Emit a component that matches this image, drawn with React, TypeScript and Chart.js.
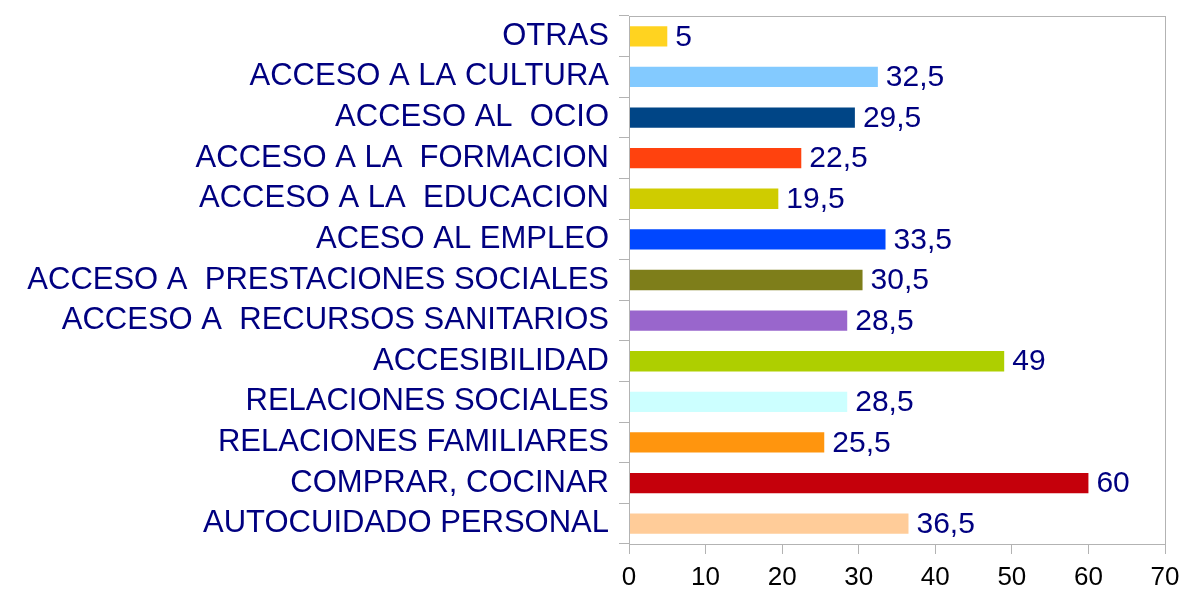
import React, { useEffect, useRef } from "react";
import { Chart, registerables } from "chart.js";

Chart.register(...registerables);

const categories = [
  "OTRAS",
  "ACCESO A LA CULTURA",
  "ACCESO AL  OCIO",
  "ACCESO A LA  FORMACION",
  "ACCESO A LA  EDUCACION",
  "ACESO AL EMPLEO",
  "ACCESO A  PRESTACIONES SOCIALES",
  "ACCESO A  RECURSOS SANITARIOS",
  "ACCESIBILIDAD",
  "RELACIONES SOCIALES",
  "RELACIONES FAMILIARES",
  "COMPRAR, COCINAR",
  "AUTOCUIDADO PERSONAL",
];

const values = [5, 32.5, 29.5, 22.5, 19.5, 33.5, 30.5, 28.5, 49, 28.5, 25.5, 60, 36.5];

const barColors = [
  "#ffd320",
  "#83caff",
  "#004586",
  "#ff420e",
  "#cfcc00",
  "#0047ff",
  "#7e7e1a",
  "#9966cc",
  "#aecf00",
  "#ccffff",
  "#ff950e",
  "#c5000b",
  "#ffcc99",
];

const xTicks = [0, 10, 20, 30, 40, 50, 60, 70];

const FONT = "'Liberation Sans', Arial, sans-serif";
const NAVY = "#000080";
const BORDER = "#b3b3b3";

const valueLabels = {
  id: "valueLabels",
  afterDatasetsDraw(chart: any) {
    const ctx = chart.ctx;
    const meta = chart.getDatasetMeta(0);
    ctx.save();
    ctx.font = `30px ${FONT}`;
    ctx.fillStyle = NAVY;
    ctx.textAlign = "left";
    ctx.textBaseline = "middle";
    meta.data.forEach((bar: any, i: number) => {
      const txt = String(values[i]).replace(".", ",");
      ctx.fillText(txt, bar.x + 8, bar.y + 1);
    });
    ctx.restore();
  },
};

const plotBorder = {
  id: "plotBorder",
  afterDraw(chart: any) {
    const { ctx, chartArea } = chart;
    ctx.save();
    ctx.strokeStyle = BORDER;
    ctx.lineWidth = 1;
    ctx.strokeRect(
      Math.round(chartArea.left) + 0.5,
      Math.round(chartArea.top) + 0.5,
      Math.round(chartArea.right - chartArea.left),
      Math.round(chartArea.bottom - chartArea.top)
    );
    ctx.restore();
  },
};

export default function App() {
  const ref = useRef<HTMLCanvasElement>(null);

  useEffect(() => {
    if (!ref.current) return;
    const chart = new Chart(ref.current, {
      type: "bar",
      data: {
        labels: categories,
        datasets: [
          {
            data: values,
            backgroundColor: barColors,
            borderWidth: 0,
            barPercentage: 0.5,
            categoryPercentage: 1,
          },
        ],
      },
      options: {
        indexAxis: "y",
        animation: false,
        responsive: false,
        maintainAspectRatio: false,
        layout: { padding: { top: 16, right: 17, left: 0, bottom: 0 } },
        plugins: {
          legend: { display: false },
          tooltip: { enabled: false },
          title: { display: false },
        },
        scales: {
          x: {
            type: "linear",
            min: 0,
            max: 70,
            afterBuildTicks(scale: any) {
              scale.ticks = xTicks.map((v) => ({ value: v }));
            },
            afterFit(scale: any) {
              scale.height = 47;
              scale.paddingLeft = 0;
              scale.paddingRight = 0;
            },
            grid: {
              drawOnChartArea: false,
              drawTicks: true,
              tickLength: 10,
              color: BORDER,
            },
            border: { display: true, color: BORDER },
            ticks: {
              color: "#000000",
              font: { family: FONT, size: 26 },
              padding: 8,
              maxRotation: 0,
            },
          },
          y: {
            type: "category",
            afterFit(scale: any) {
              scale.width = 629;
              scale.paddingTop = 0;
              scale.paddingBottom = 0;
            },
            grid: {
              offset: true,
              drawOnChartArea: false,
              drawTicks: true,
              tickLength: 10,
              color: BORDER,
            },
            border: { display: true, color: BORDER },
            ticks: {
              color: NAVY,
              font: { family: FONT, size: 31 },
              padding: 10,
              autoSkip: false,
            },
          },
        },
      },
      plugins: [valueLabels, plotBorder],
    });
    return () => chart.destroy();
  }, []);

  return (
    <div style={{ position: "absolute", left: 0, top: 0, width: 1182, height: 591, background: "#fff" }}>
      <canvas ref={ref} width={1182} height={591} style={{ width: 1182, height: 591 }} />
    </div>
  );
}
